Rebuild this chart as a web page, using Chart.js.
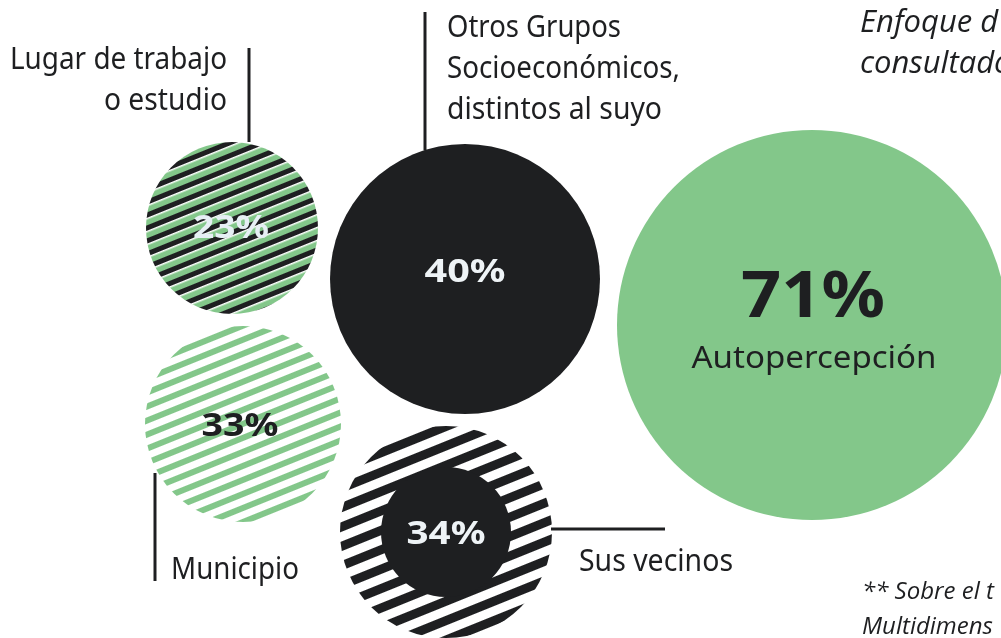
<!DOCTYPE html>
<html>
<head>
<meta charset="utf-8">
<script src="https://cdn.jsdelivr.net/npm/chart.js@4/dist/chart.umd.min.js"></script>
<style>
  html, body { margin: 0; padding: 0; background: #fff; }
  #wrap { width: 1001px; height: 638px; position: relative; }
</style>
</head>
<body>
<div id="wrap"><canvas id="chartEnfoque" width="1001" height="638"></canvas></div>
<script>
// ---- datos ----
const categories = ['Lugar de trabajo o estudio', 'Otros Grupos Socioeconómicos, distintos al suyo', 'Autopercepción', 'Municipio', 'Sus vecinos'];
const values = [23, 40, 71, 33, 34];

// ---- disposición de las burbujas (en px del lienzo) ----
const bubbleX = [232, 465, 812, 243, 446];
const bubbleY = [228, 279, 325, 424, 532];
const bubbleR = [86, 135, 195, 98, 106];
const innerR = 65;   // círculo negro interior de "Sus vecinos"

const GREEN = '#83c78a';
const DARK = '#1e1f21';

// patrón de rayas diagonales: bands = [[color, grosor], ...]
function stripes(bands) {
    const h = bands.reduce((s, b) => s + b[1], 0);
    const c = document.createElement('canvas');
    c.width = 8; c.height = h;
    const g = c.getContext('2d');
    let y = 0;
    bands.forEach(([col, t]) => { g.fillStyle = col; g.fillRect(0, y, 8, t); y += t; });
    const p = g.createPattern(c, 'repeat');
    p.setTransform(new DOMMatrix().rotateSelf(-22));
    return p;
}

const fills = [
    stripes([[DARK, 5], ['#ffffff', 1.5], [GREEN, 5.5]]),
    DARK,
    GREEN,
    stripes([[GREEN, 6], ['#ffffff', 7]]),
    stripes([[DARK, 9], ['#ffffff', 9]]),
];
const valueColors = ['#e6eff4', '#eef3f6', DARK, DARK, '#eef3f6'];

// ---- textos ----
const labelPlugin = {
    id: 'labels',
    afterDatasetsDraw(chart) {
        const ctx = chart.ctx;
        const meta = chart.getDatasetMeta(0);
        ctx.save();

        // líneas guía
        ctx.strokeStyle = DARK; ctx.lineWidth = 3;
        [[249, 48, 249, 142], [425, 12, 425, 150], [155, 473, 155, 581], [551, 529, 665, 529]].forEach(l => {
            ctx.beginPath(); ctx.moveTo(l[0], l[1]); ctx.lineTo(l[2], l[3]); ctx.stroke();
        });

        // texto ajustado al ancho w (estira o comprime en horizontal)
        const txt = (s, x, y, font, color, align, w) => {
            ctx.save();
            ctx.font = font; ctx.fillStyle = color; ctx.textAlign = align; ctx.textBaseline = 'alphabetic';
            const k = w ? w / ctx.measureText(s).width : 1;
            ctx.translate(x, y);
            ctx.scale(k, 1);
            ctx.fillText(s, 0, 0);
            ctx.restore();
        };
        const reg = '400 30px "Noto Sans"';
        txt('Lugar de trabajo', 227, 69, reg, DARK, 'right', 217);
        txt('o estudio', 227, 110, reg, DARK, 'right', 123);
        txt('Otros Grupos', 447, 37, reg, DARK, 'left', 174);
        txt('Socioeconómicos,', 447, 78, reg, DARK, 'left', 233);
        txt('distintos al suyo', 447, 119, reg, DARK, 'left', 215);
        txt('Municipio', 171, 579, reg, DARK, 'left', 128);
        txt('Sus vecinos', 579, 571, reg, DARK, 'left', 154);
        txt('Autopercepción', 814, 368, reg, DARK, 'center', 245);

        // porcentajes
        const sizes = [33, 33, 64, 33, 33];
        const widths = [76, 81, 144, 77, 79];
        const dys = [10, 3, -8, 12, 12];
        const dxs = [-1, 0, 1, -3, 0];
        meta.data.forEach((el, i) => {
            txt(values[i] + '%', el.x + dxs[i], el.y + dys[i], '700 ' + sizes[i] + 'px "Noto Sans"', valueColors[i], 'center', widths[i]);
        });

        // notas
        txt('Enfoque d', 860, 32, 'italic 400 31px "Open Sans"', DARK, 'left');
        txt('consultado', 860, 73, 'italic 400 31px "Open Sans"', DARK, 'left');
        txt('** Sobre el t', 862, 599, 'italic 400 24px "Open Sans"', DARK, 'left');
        txt('Multidimens', 862, 634, 'italic 400 24px "Open Sans"', DARK, 'left');
        ctx.restore();
    }
};

new Chart(document.getElementById('chartEnfoque'), {
    type: 'bubble',
    data: {
        datasets: [{
            label: 'Enfoque',
            data: values.map((v, i) => ({ x: bubbleX[i], y: bubbleY[i], r: bubbleR[i], v })),
            backgroundColor: fills,
            borderWidth: 0,
            hoverRadius: 0,
            clip: false,
            order: 1,
        }, {
            label: 'Sus vecinos (interior)',
            data: [{ x: bubbleX[4], y: bubbleY[4], r: innerR, v: values[4] }],
            backgroundColor: DARK,
            borderWidth: 0,
            hoverRadius: 0,
            clip: false,
            order: 0,
        }]
    },
    options: {
        responsive: false,
        animation: false,
        events: [],
        layout: { padding: 0, autoPadding: false },
        plugins: { legend: { display: false }, tooltip: { enabled: false } },
        scales: {
            x: { display: false, min: 0, max: 1001 },
            y: { display: false, min: 0, max: 638, reverse: true }
        }
    },
    plugins: [labelPlugin]
});
</script>
</body>
</html>
